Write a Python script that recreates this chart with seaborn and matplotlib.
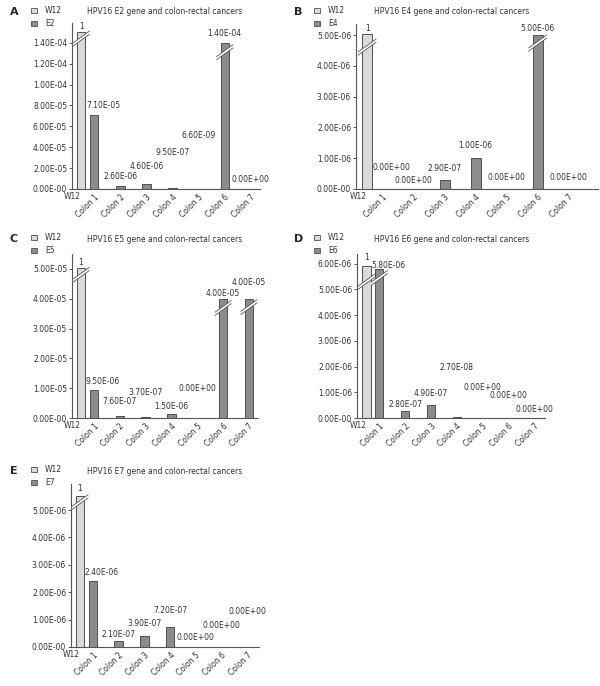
import matplotlib
matplotlib.use("Agg")
import pandas as pd
import matplotlib.pyplot as plt
import seaborn as sns
from matplotlib.patches import Patch, Polygon
from matplotlib.lines import Line2D
from matplotlib.ticker import MultipleLocator, FuncFormatter
from matplotlib.transforms import IdentityTransform

sns.set_style("ticks")
plt.rcParams['font.family'] = ['DejaVu Sans']

# samples
colons = ["Colon 1", "Colon 2", "Colon 3", "Colon 4", "Colon 5", "Colon 6", "Colon 7"]
w12_value = 1

# HPV16 gene expression relative to W12
e2 = [7.1e-5, 2.6e-6, 4.6e-6, 9.5e-7, 6.6e-9, 1.4e-4, 0.0]
e4 = [0.0, 0.0, 2.9e-7, 1.0e-6, 0.0, 5.0e-6, 0.0]
e5 = [9.5e-6, 7.6e-7, 3.7e-7, 1.5e-6, 0.0, 4.0e-5, 4.0e-5]
e6 = [5.8e-6, 2.8e-7, 4.9e-7, 2.7e-8, 0.0, 0.0, 0.0]
e7 = [2.4e-6, 2.1e-7, 3.9e-7, 7.2e-7, 0.0, 0.0, 0.0]

# height the cut W12 bar is drawn at (A-E)
w12_shown = [1.5e-4, 5.05e-6, 5.03e-5, 5.91e-6, 5.5e-6]

# height of the number labels (W12, then Colon 1-7)
e2_label_y = [1.56e-4, 8.0e-5, 1.16e-5, 2.2e-5, 3.5e-5, 5.1e-5, 1.49e-4, 8.7e-6]
e4_label_y = [5.23e-6, 0.71e-6, 0.29e-6, 0.65e-6, 1.40e-6, 0.36e-6, 5.23e-6, 0.36e-6]
e5_label_y = [5.23e-5, 1.21e-5, 0.54e-5, 0.87e-5, 0.37e-5, 1.0e-5, 4.19e-5, 4.56e-5]
e6_label_y = [6.26e-6, 5.95e-6, 0.54e-6, 0.97e-6, 1.98e-6, 1.17e-6, 0.86e-6, 0.35e-6]
e7_label_y = [5.77e-6, 2.72e-6, 0.44e-6, 0.85e-6, 1.32e-6, 0.33e-6, 0.77e-6, 1.29e-6]

# axis breaks: (bar index, level)   bar 0 = W12
e2_breaks = [(0, 1.44e-4), (6, 1.31e-4)]
e4_breaks = [(0, 4.61e-6), (6, 4.74e-6)]
e5_breaks = [(0, 4.8e-5), (6, 3.69e-5), (7, 3.72e-5)]
e6_breaks = [(0, 5.3e-6), (1, 5.45e-6)]
e7_breaks = [(0, 5.29e-6)]

light = "#dadada"
dark = "#8c8c8c"
edge = "#505050"
txt_col = "#333333"
fs = 5.5

W, H = 600, 686
fig = plt.figure(figsize=(W / 100, H / 100), dpi=100)


def fmt_y(v, pos):
    if v == 0:
        return "0.00E-00"
    return f"{v:.2E}"


def draw_panel(letter, gene, vals, w12_h, lab_y, breaks, ymax, ystep, rect, xlim, corner):
    l, t, r, b = rect
    ax = fig.add_axes([l / W, 1 - b / H, (r - l) / W, (b - t) / H])
    df = pd.DataFrame({
        "sample": ["Colon 1"] + colons,
        "series": ["W12"] + [gene] * len(colons),
        "value": [w12_h] + vals,
    })
    sns.barplot(data=df, x="sample", y="value", hue="series", order=colons,
                hue_order=["W12", gene], palette=[light, dark], width=1.0, gap=0.35,
                edgecolor=edge, linewidth=0.7, errorbar=None, legend=False, ax=ax)
    ax.set_xlim(*xlim)
    ax.set_ylim(0, ymax)
    ax.set_xlabel("")
    ax.set_ylabel("")
    sns.despine(ax=ax)
    for s in ["left", "bottom"]:
        ax.spines[s].set_color("#555555")
        ax.spines[s].set_linewidth(0.8)

    bars = [ax.containers[0].patches[0]] + list(ax.containers[1].patches)
    xs = [p.get_x() + p.get_width() / 2 for p in bars]
    ax.set_xticks(xs)
    ax.set_xticklabels(["W12"] + colons)
    for i, lab in enumerate(ax.get_xticklabels()):
        lab.set_ha("right")
        if i > 0:
            lab.set_rotation(45)
            lab.set_rotation_mode("anchor")
    ax.tick_params(axis="x", length=0, pad=2.5, labelsize=fs, colors=txt_col)
    ax.yaxis.set_major_locator(MultipleLocator(ystep))
    ax.yaxis.set_major_formatter(FuncFormatter(fmt_y))
    ax.tick_params(axis="y", length=2.5, width=0.7, pad=1, labelsize=fs,
                   colors=txt_col, color="#555555")

    texts = [f"{w12_value:g}"] + [f"{v:.2E}" for v in vals]
    for k, (x, txt, y) in enumerate(zip(xs, texts, lab_y)):
        dx = 6.5 if k == 1 else 0
        ax.annotate(txt, (x, y), xytext=(dx, 0), textcoords="offset points",
                    ha="center", va="center", fontsize=fs, color=txt_col,
                    annotation_clip=False)

    # double slash breaks on cut bars
    for k, yb in breaks:
        p = bars[k]
        x0, y0 = ax.transData.transform((p.get_x(), yb))
        x1, _ = ax.transData.transform((p.get_x() + p.get_width(), yb))
        xa, xb = x0 - 4, x1 + 4
        rise = 0.36 * (xb - xa)
        g = 1.6
        poly = Polygon([(xa, y0 - rise - g), (xb, y0 + rise - g),
                        (xb, y0 + rise + g), (xa, y0 - rise + g)],
                       closed=True, fc="white", ec="none",
                       transform=IdentityTransform(), clip_on=False, zorder=5)
        ax.add_artist(poly)
        for sgn in (-1, 1):
            ln = Line2D([xa, xb], [y0 - rise + sgn * g, y0 + rise + sgn * g],
                        color="#555555", lw=0.6, transform=IdentityTransform(),
                        clip_on=False, zorder=6)
            ax.add_artist(ln)

    cx, cy, lx, ly, tx = corner
    fig.text(cx / W, 1 - cy / H, letter, fontsize=8, fontweight="bold",
             va="center", ha="left")
    fig.text(tx / W, 1 - cy / H, f"HPV16 {gene} gene and colon-rectal cancers",
             fontsize=fs, color=txt_col, va="center", ha="left")
    handles = [Patch(fc=light, ec=edge, lw=0.6), Patch(fc=dark, ec=edge, lw=0.6)]
    fig.legend(handles, ["W12", gene], loc="upper left",
               bbox_to_anchor=(lx / W, 1 - ly / H), frameon=False, fontsize=fs,
               handlelength=0.75, handleheight=0.75, handletextpad=1.1,
               labelspacing=0.55, borderpad=0, borderaxespad=0,
               labelcolor=txt_col)
    return ax


draw_panel("A", "E2", e2, w12_shown[0], e2_label_y, e2_breaks, 1.59e-4, 2e-5,
           (72, 23, 260, 189), (-0.6, 6.6), (10, 12, 31, 6, 87))
draw_panel("B", "E4", e4, w12_shown[1], e4_label_y, e4_breaks, 5.36e-6, 1e-6,
           (356, 24, 598, 189), (-0.61, 7.2), (294, 12, 314, 6, 374))
draw_panel("C", "E5", e5, w12_shown[2], e5_label_y, e5_breaks, 5.5e-5, 1e-5,
           (72, 254, 258, 418), (-0.6, 6.6), (10, 239, 31, 233, 87))
draw_panel("D", "E6", e6, w12_shown[3], e6_label_y, e6_breaks, 6.38e-6, 1e-6,
           (357, 254, 545, 418), (-0.61, 6.65), (294, 239, 314, 233, 374))
draw_panel("E", "E7", e7, w12_shown[4], e7_label_y, e7_breaks, 5.95e-6, 1e-6,
           (71, 484, 259, 647), (-0.6, 6.7), (10, 471, 31, 465, 87))

fig.savefig("out.png", dpi=100, facecolor="white")
